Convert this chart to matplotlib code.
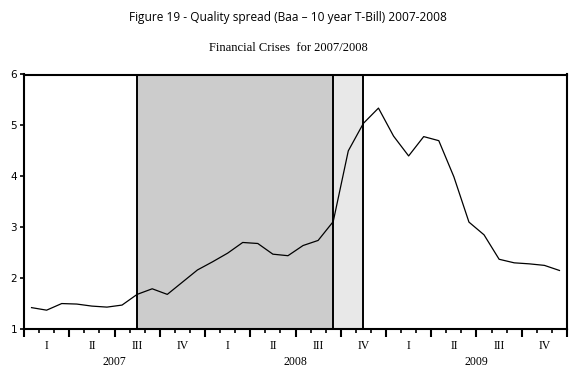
import matplotlib.pyplot as plt
import numpy as np

# dados mensais 2007-2009 (spread Baa - T-Bill 10 anos)
years = ['2007', '2008', '2009']
quarters = ['I', 'II', 'III', 'IV']
spread = [1.42, 1.37, 1.50, 1.49, 1.45, 1.43, 1.47, 1.68, 1.79, 1.68, 1.92, 2.16,
          2.32, 2.49, 2.70, 2.68, 2.47, 2.44, 2.64, 2.74, 3.11, 4.50, 5.04, 5.34,
          4.79, 4.40, 4.78, 4.70, 3.99, 3.10, 2.85, 2.37, 2.30, 2.28, 2.25, 2.15]
# periodos de crise (em meses desde Jan 2007)
crise1 = (7.5, 20.5)
crise2 = (20.5, 22.5)

fig = plt.figure(figsize=(5.76, 3.80), dpi=100)
ax = fig.add_axes([24/576, 51/380, 543/576, 254.5/380])

x = np.arange(len(spread)) + 0.5
ax.axvspan(crise1[0], crise1[1], color='#cccccc', lw=0)
ax.axvspan(crise2[0], crise2[1], color='#e8e8e8', lw=0)
for v in [crise1[0], crise2[0], crise2[1]]:
    ax.axvline(v, color='black', lw=1.4)
ax.plot(x, spread, color='black', lw=0.9)

ax.set_xlim(0, 36)
ax.set_ylim(1, 6)
ax.set_yticks(range(1, 7))
ax.set_xticks(np.arange(0, 37, 3))
ax.set_xticks(np.arange(0, 37), minor=True)
ax.set_xticklabels([])
ax.tick_params(axis='x', which='major', length=6, width=1.5, direction='out')
ax.tick_params(axis='x', which='minor', length=3, width=1.2, direction='out')
ax.tick_params(axis='y', length=3, width=1.2, labelsize=7.5, pad=2)
for s in ax.spines.values():
    s.set_linewidth(1.5)

trans = ax.get_xaxis_transform()
for i, ano in enumerate(years):
    for j, q in enumerate(quarters):
        ax.text(i * 12 + j * 3 + 1.5, -0.043, q, transform=trans, ha='center', va='top',
                family='Liberation Serif', fontsize=8.5)
    ax.text(i * 12 + 6, -0.108, ano, transform=trans, ha='center', va='top',
            family='Liberation Serif', fontsize=8.5)

fig.text(0.5, 1 - 17/380, 'Figure 19 - Quality spread (Baa \u2013 10 year T-Bill) 2007-2008',
         ha='center', va='center', family='Open Sans', fontsize=8.6)
fig.text(0.5, 1 - 48/380, 'Financial Crises  for 2007/2008', ha='center', va='center',
         family='Liberation Serif', fontsize=9.0)

fig.savefig('out.png', dpi=100)
